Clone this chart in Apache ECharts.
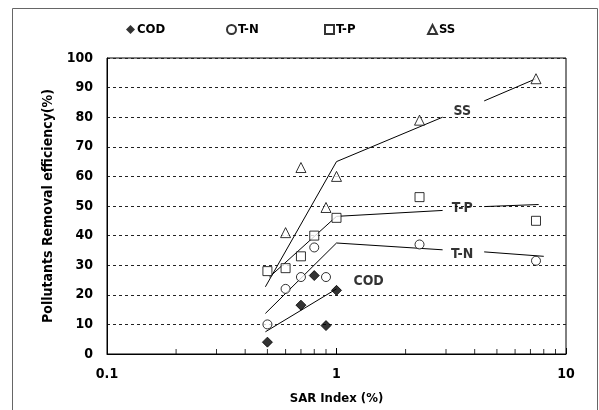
<!DOCTYPE html>
<html><head><meta charset="utf-8">
<script src="https://cdn.jsdelivr.net/npm/echarts@6/dist/echarts.min.js"></script>
<style>html,body{margin:0;padding:0;background:#fff}#c{width:599px;height:410px}</style>
</head><body><div id="c"></div>
<script>
const FONT = "'Liberation Sans Narrow','DejaVu Sans Condensed','Liberation Sans',sans-serif";
const seriesNames = ['COD','T-N','T-P','SS'];
const codX = [0.5,0.7,0.8,0.9,1.0];
const codY = [4,16.5,26.5,9.6,21.5];
const tnX = [0.5,0.6,0.7,0.8,0.9,2.3,7.4];
const tnY = [10,22,26,36,26,37,31.5];
const tpX = [0.5,0.6,0.7,0.8,1.0,2.3,7.4];
const tpY = [28,29,33,40,46,53,45];
const ssX = [0.6,0.7,0.9,1.0,2.3,7.4];
const ssY = [41,63,49.5,60,79,93];
const codTrend = [[0.49,7.5],[1.0,22]];
const tnTrendA = [[0.49,13.7],[1.0,37.5],[2.9,35.2]];
const tnTrendB = [[4.4,34.5],[8.0,33]];
const tpTrendA = [[0.51,26],[1.0,46.5],[2.9,48.5]];
const tpTrendB = [[4.4,49.8],[7.6,50.5]];
const ssTrendA = [[0.49,22.7],[1.0,65],[2.9,80]];
const ssTrendB = [[4.4,85.5],[7.4,93]];
const trendLabels = [['COD',1.38,24.4],['T-N',3.53,33.8],['T-P',3.53,49.3],['SS',3.53,81.9]];
const minorTickX = [0.2,0.3,0.4,0.5,0.6,0.7,0.8,0.9,2,3,4,5,6,7,8,9];

const zip = (xs, ys) => xs.map((x, i) => [x, ys[i]]);
const sym = {COD:'diamond','T-N':'circle','T-P':'rect',SS:'triangle'};
const symSize = {COD:10,'T-N':9,'T-P':9,SS:10};
const pts = {COD:zip(codX,codY),'T-N':zip(tnX,tnY),'T-P':zip(tpX,tpY),SS:zip(ssX,ssY)};
const legendLeft = [121, 221, 319, 422];

const lineSeries = (d) => ({type:'line', data:d, symbol:'none', silent:true, z:2,
  lineStyle:{color:'#000', width:1}});

const chart = echarts.init(document.getElementById('c'), null, {renderer:'canvas'});
chart.setOption({
  animation:false,
  backgroundColor:'#fff',
  graphic:[{type:'rect', shape:{x:12.5,y:8.5,width:585,height:420}, style:{fill:'none', stroke:'#666', lineWidth:1}, silent:true}],
  legend: seriesNames.map((n, i) => ({
    data:[{name:n, icon: sym[n]}], left: legendLeft[i], top: 18, itemWidth: 9, itemHeight: 9, itemGap: 2,
    textStyle:{fontFamily:FONT, fontWeight:'bold', fontSize:13, color:'#000', padding:[0,0,0,-3]},
    selectedMode:false
  })),
  grid:{left:107, right:33, top:58, bottom:56, show:true, borderColor:'#000', borderWidth:1},
  xAxis:{type:'log', logBase:10, min:0.1, max:10,
    name:'SAR Index (%)', nameLocation:'middle', nameGap:38,
    nameTextStyle:{fontFamily:FONT, fontWeight:'bold', fontSize:13, color:'#000'},
    axisLine:{lineStyle:{color:'#000', width:1}},
    axisTick:{inside:true, length:6, lineStyle:{color:'#000'}},
    axisLabel:{fontFamily:FONT, fontWeight:'bold', fontSize:14, color:'#000', margin:13},
    splitLine:{show:false}, minorTick:{show:false}},
  yAxis:{type:'value', min:0, max:100, interval:10,
    name:'Pollutants Removal efficiency(%)', nameLocation:'middle', nameGap:52,
    nameTextStyle:{fontFamily:FONT, fontWeight:'bold', fontSize:14, color:'#000'},
    axisLine:{show:true, lineStyle:{color:'#000', width:1}},
    axisTick:{show:false},
    axisLabel:{fontFamily:FONT, fontWeight:'bold', fontSize:14, color:'#000', margin:14},
    splitLine:{show:true, lineStyle:{color:'#222', type:[3,3], width:1}}},
  series:[
    lineSeries(codTrend), lineSeries(tnTrendA), lineSeries(tnTrendB),
    lineSeries(tpTrendA), lineSeries(tpTrendB), lineSeries(ssTrendA), lineSeries(ssTrendB),
    ...seriesNames.map(n => ({
      name:n, type:'scatter', data:pts[n], symbol:sym[n], symbolSize:symSize[n], z:3,
      itemStyle: n === 'COD' ? {color:'#000', borderColor:'#000'} : {color:'#fff', borderColor:'#000', borderWidth:1}
    })),
    {type:'scatter', silent:true, data: trendLabels.map(t => ({value:[t[1], t[2]], name:t[0]})),
      symbolSize:0, z:4,
      label:{show:true, position:'inside', formatter:p=>p.name, fontFamily:FONT, fontWeight:'bold', fontSize:14, color:'#000'}},
    {type:'scatter', silent:true, data: minorTickX.map(x => [x, 0]), symbol:'rect', symbolSize:[1,5], symbolOffset:[0,-2.5],
      itemStyle:{color:'#000'}, z:1}
  ]
});
</script></body></html>
